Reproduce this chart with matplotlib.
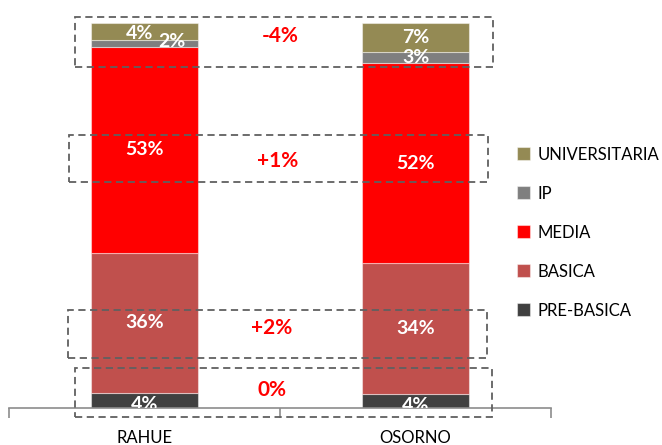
import numpy as np
import matplotlib.pyplot as plt

plt.rcParams['font.family'] = ['Lato', 'DejaVu Sans']

comunas = ['RAHUE', 'OSORNO']
niveles = ['PRE-BASICA', 'BASICA', 'MEDIA', 'IP', 'UNIVERSITARIA']
colores = ['#404040', '#C0504D', '#FF0000', '#7F7F7F', '#948A54']

# porcentajes por nivel (RAHUE, OSORNO)
pre_basica = np.array([4.0, 3.6])
basica = np.array([36.4, 34.0])
media = np.array([53.4, 52.1])
ip = np.array([1.8, 2.9])
universitaria = np.array([4.4, 7.4])

series = [pre_basica, basica, media, ip, universitaria]

fig = plt.figure(figsize=(6.62, 4.45), dpi=100)
ax = fig.add_axes([0.01435, 0.08315, 0.8179, 0.8645])

x = np.arange(len(comunas))
ancho = 0.395
base = np.zeros(len(comunas))
for vals, nom, col in zip(series, niveles, colores):
    ax.bar(x, vals, ancho, bottom=base, color=col, label=nom,
           edgecolor=(1, 1, 1, 0.45), linewidth=0.8)
    base = base + vals

# etiquetas dentro de las barras (desplazamientos para los tramos chicos)
despl = {('IP', 0): (0.10, 0.5), ('UNIVERSITARIA', 0): (-0.02, -0.4),
         ('PRE-BASICA', 0): (0, -1.2), ('PRE-BASICA', 1): (0, -1.2)}
base = np.zeros(len(comunas))
for vals, nom in zip(series, niveles):
    for i in range(len(comunas)):
        dx, dy = despl.get((nom, i), (0, 0))
        ax.text(x[i] + dx, base[i] + vals[i] / 2 + dy, f'{vals[i]:.0f}%',
                ha='center', va='center', color='white', fontsize=14,
                fontweight='bold', clip_on=True)
    base = base + vals

# diferencias RAHUE - OSORNO
grupos = [universitaria + ip, media, basica, pre_basica]
dif = [g[0] - g[1] for g in grupos]
pos_dif = [(0.50, 96.6), (0.49, 64.3), (0.47, 20.8), (0.47, 4.6)]
for d, (px, py) in zip(dif, pos_dif):
    txt = '0%' if round(d) == 0 else f'{d:+.0f}%'
    ax.text(px, py, txt, ha='center', va='center', color='#FF0000',
            fontsize=15, fontweight='bold')

# recuadros punteados
cajas = [(-0.258, 88.7, 1.286, 101.6), (-0.280, 58.7, 1.267, 71.0),
         (-0.284, 13.1, 1.265, 25.5), (-0.258, -2.4, 1.283, 10.4)]
for x0, y0, x1, y1 in cajas:
    r = plt.Rectangle((x0, y0), x1 - x0, y1 - y0, fill=False,
                      edgecolor='#606060', linestyle=(0, (4, 2.5)),
                      linewidth=1.3, clip_on=False, zorder=5)
    ax.add_patch(r)

ax.set_xlim(-0.5, 1.5)
ax.set_ylim(0, 100)
for s in ['top', 'right', 'left']:
    ax.spines[s].set_visible(False)
ax.spines['bottom'].set_color('#8C8C8C')
ax.spines['bottom'].set_linewidth(1.2)
ax.set_yticks([])
ax.set_xticks([-0.5, 0.5, 1.5])
ax.set_xticklabels([])
ax.tick_params(axis='x', which='major', length=7, width=1.2,
               color='#8C8C8C', direction='out')
ax.set_xticks(x, minor=True)
ax.set_xticklabels(comunas, minor=True, fontsize=12)
ax.tick_params(axis='x', which='minor', length=0, pad=16)

h, l = ax.get_legend_handles_labels()
fig.legend(h[::-1], l[::-1], loc='center left',
           bbox_to_anchor=(0.768, 0.4775), frameon=False, fontsize=12,
           handlelength=0.78, handleheight=0.78, handletextpad=0.45,
           labelspacing=1.38, borderpad=0)

fig.savefig('out.png', dpi=100)
